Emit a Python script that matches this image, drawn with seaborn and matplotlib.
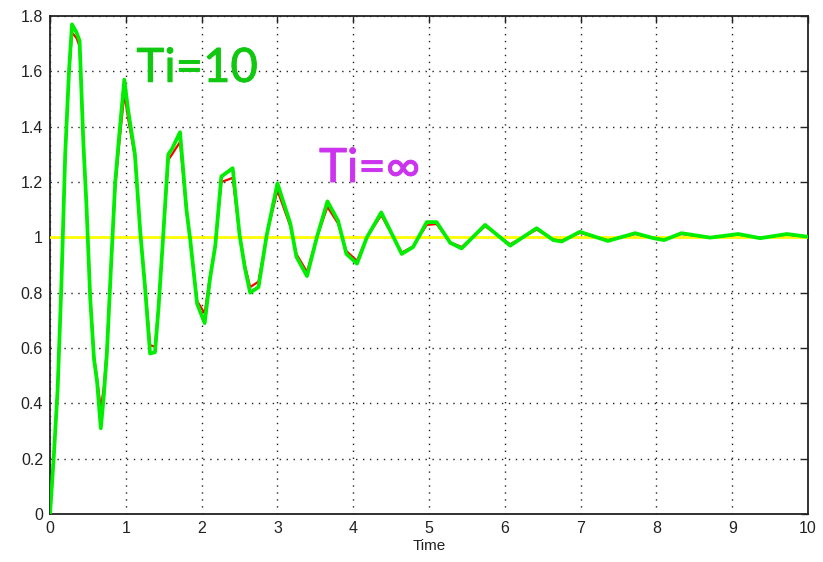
import matplotlib
matplotlib.use("Agg")
import matplotlib.pyplot as plt
import matplotlib.ticker as mticker
import matplotlib.patheffects as pe
import numpy as np
import pandas as pd
import seaborn as sns

# Step response of the closed loop, sampled by the simulator
time = [0.00, 0.05, 0.10, 0.15, 0.20, 0.25, 0.29, 0.35, 0.39, 0.44, 0.48,
        0.53, 0.58, 0.62, 0.67, 0.71, 0.75, 0.80, 0.86, 0.91, 0.98, 1.03,
        1.12, 1.19, 1.25, 1.32, 1.385, 1.43, 1.48, 1.56, 1.61, 1.715, 1.80,
        1.85, 1.94, 2.04, 2.11, 2.18, 2.26, 2.41, 2.50, 2.57, 2.64, 2.75,
        2.86, 3.00, 3.17, 3.25, 3.39, 3.52, 3.66, 3.80, 3.91, 4.05, 4.18,
        4.37, 4.64, 4.79, 4.97, 5.10, 5.28, 5.43, 5.74, 6.07, 6.42, 6.64,
        6.75, 6.99, 7.36, 7.72, 7.96, 8.10, 8.33, 8.71, 9.08, 9.37, 9.72,
        10.00]

# Ti = 10 (PI controller)
resp_ti10 = [0.00, 0.21, 0.45, 0.83, 1.30, 1.60, 1.77, 1.74, 1.71, 1.34, 1.12,
             0.78, 0.56, 0.48, 0.31, 0.43, 0.58, 0.87, 1.20, 1.36, 1.57, 1.46,
             1.30, 1.02, 0.83, 0.58, 0.585, 0.74, 0.95, 1.30, 1.32, 1.38, 1.10,
             0.99, 0.76, 0.69, 0.85, 0.97, 1.22, 1.25, 1.01, 0.89, 0.80, 0.82,
             1.01, 1.195, 1.05, 0.93, 0.86, 1.00, 1.13, 1.06, 0.94, 0.905, 1.00,
             1.09, 0.94, 0.965, 1.055, 1.055, 0.98, 0.96, 1.045, 0.97, 1.033, 0.99,
             0.985, 1.02, 0.987, 1.015, 0.997, 0.99, 1.015, 0.999, 1.012, 0.997, 1.012,
             1.002]

# Ti = infinity (no integral action)
resp_tinf = [0.00, 0.21, 0.45, 0.83, 1.29, 1.59, 1.74, 1.72, 1.69, 1.33, 1.12,
             0.79, 0.57, 0.49, 0.38, 0.46, 0.60, 0.87, 1.18, 1.33, 1.52, 1.43,
             1.29, 1.02, 0.84, 0.61, 0.605, 0.75, 0.95, 1.28, 1.30, 1.345, 1.09,
             0.99, 0.77, 0.725, 0.86, 0.97, 1.20, 1.215, 1.01, 0.90, 0.82, 0.84,
             1.01, 1.17, 1.04, 0.94, 0.875, 1.00, 1.11, 1.05, 0.95, 0.915, 1.00,
             1.08, 0.945, 0.967, 1.045, 1.048, 0.982, 0.965, 1.04, 0.975, 1.028, 0.992,
             0.988, 1.016, 0.99, 1.012, 0.998, 0.992, 1.012, 1.0, 1.01, 0.998, 1.01,
             1.002]

setpoint_t = [0.0, 10.0]
setpoint_v = [1.0, 1.0]

x_ticks = list(range(0, 11))
y_ticks = [0, 0.2, 0.4, 0.6, 0.8, 1, 1.2, 1.4, 1.6, 1.8]

sns.set_style("white")
plt.rcParams["font.family"] = ["Liberation Sans", "DejaVu Sans"]

fig = plt.figure(figsize=(8.23, 5.62), dpi=100)
ax = fig.add_axes([0.0608, 0.0854, 0.9210, 0.8861])

df_sp = pd.DataFrame({"t": setpoint_t, "y": setpoint_v})
df_inf = pd.DataFrame({"t": time, "y": resp_tinf})
df_10 = pd.DataFrame({"t": time, "y": resp_ti10})

sns.lineplot(data=df_sp, x="t", y="y", ax=ax, color="#ffff00", lw=2.0,
             estimator=None, sort=False, zorder=3)
sns.lineplot(data=df_inf, x="t", y="y", ax=ax, color="#ff0000", lw=1.6,
             estimator=None, sort=False, zorder=4)
sns.lineplot(data=df_10, x="t", y="y", ax=ax, color="#00ee00", lw=2.7,
             estimator=None, sort=False, zorder=5)

ax.set_xlim(0, 10)
ax.set_ylim(0, 1.8)
ax.set_xticks(x_ticks)
ax.set_yticks(y_ticks)
ax.yaxis.set_major_formatter(mticker.FuncFormatter(lambda v, p: f"{v:g}"))
ax.tick_params(axis="both", which="major", direction="in", length=5, width=1,
               labelsize=11.5, colors="#222222", top=True, right=True,
               pad=5)
ax.grid(True, color="#222222", linestyle=(0, (1, 4)), lw=1.0, zorder=1)
for s in ax.spines.values():
    s.set_visible(True)
    s.set_color("#222222")
    s.set_linewidth(1.3)

ax.set_xlabel("Time", fontsize=11, color="#222222", labelpad=2)
ax.set_ylabel("")

green_txt = "#11c811"
purple_txt = "#cc33ee"
ax.text(1.14, 1.562, "Ti=10", color=green_txt, fontsize=34,
        family=["Lato", "DejaVu Sans"], zorder=6,
        path_effects=[pe.withStroke(linewidth=0.6, foreground=green_txt)])
ax.text(3.55, 1.20, "Ti=\u221e", color=purple_txt, fontsize=34,
        family=["Lato", "DejaVu Sans"], zorder=6,
        path_effects=[pe.withStroke(linewidth=0.6, foreground=purple_txt)])

fig.savefig("out.png", dpi=100, facecolor="white")
